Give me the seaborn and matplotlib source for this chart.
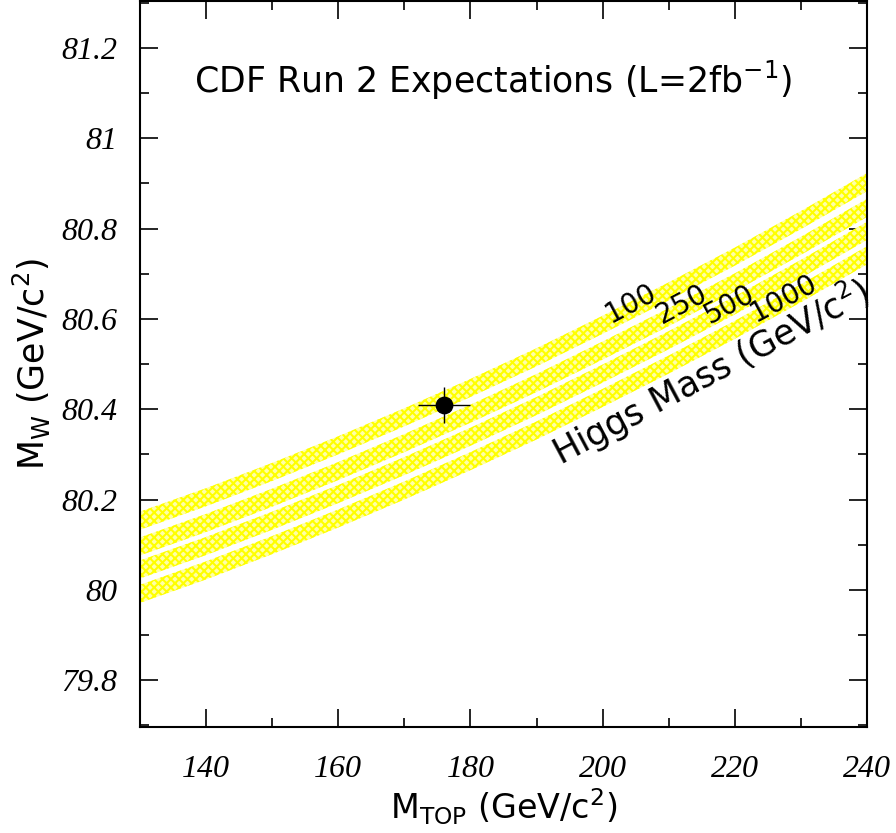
import numpy as np
import pandas as pd
import matplotlib
matplotlib.use("Agg")
import matplotlib.pyplot as plt
import seaborn as sns
from matplotlib.ticker import MultipleLocator

# Bandens mittlinjer (var 10:e GeV)
m_top = [130, 140, 150, 160, 170, 180, 190, 200, 210, 220, 230, 240]
mw_100 = [80.153, 80.205, 80.261, 80.320, 80.382, 80.447, 80.515, 80.587, 80.661, 80.738, 80.819, 80.903]
mw_250 = [80.096, 80.148, 80.204, 80.263, 80.325, 80.390, 80.458, 80.530, 80.604, 80.681, 80.762, 80.846]
mw_500 = [80.045, 80.097, 80.153, 80.212, 80.274, 80.339, 80.407, 80.479, 80.553, 80.630, 80.711, 80.795]
mw_1000 = [79.991, 80.043, 80.099, 80.158, 80.220, 80.285, 80.353, 80.425, 80.499, 80.576, 80.657, 80.741]
higgs_masses = ["100", "250", "500", "1000"]
band_halfwidth = 0.02

# Mätpunkt med fel
point_x, point_y = 176.0, 80.41
point_xerr, point_yerr = 4.0, 0.04

# Etiketter för banden
label_x = [204.2, 212.0, 219.1, 227.4]
label_y = [80.635, 80.631, 80.631, 80.646]

sns.set_style("ticks")
plt.rcParams.update({
    'hatch.linewidth': 1.5,
    'text.color': 'black',
    'axes.labelcolor': 'black',
    'xtick.color': 'black',
    'ytick.color': 'black',
    'mathtext.fontset': 'dejavusans',
})

df = pd.DataFrame({
    'M_top': m_top * 4,
    'M_W': mw_100 + mw_250 + mw_500 + mw_1000,
    'Higgs': sum([[h] * len(m_top) for h in higgs_masses], []),
})

fig = plt.figure(figsize=(8.96, 8.33), dpi=100)
ax = fig.add_axes([0.156, 0.127, 0.812, 0.872])

for h, grp in df.groupby('Higgs', sort=False):
    ax.fill_between(grp['M_top'], grp['M_W'] - band_halfwidth, grp['M_W'] + band_halfwidth,
                    facecolor='#ffffa8', edgecolor='#ffff00', hatch='xxxx', linewidth=0)

ax.errorbar([point_x], [point_y], xerr=[point_xerr], yerr=[point_yerr],
            fmt='none', ecolor='black', elinewidth=1.0, capsize=0)
sns.scatterplot(x=[point_x], y=[point_y], color='black', s=140, edgecolor='black', ax=ax, zorder=5)

ax.set_xlim(130, 240)
ax.set_ylim(79.696, 81.304)

ax.xaxis.set_major_locator(MultipleLocator(20))
ax.xaxis.set_minor_locator(MultipleLocator(10))
ax.yaxis.set_minor_locator(MultipleLocator(0.1))
ax.set_yticks(np.arange(79.8, 81.21, 0.2))
ax.set_yticklabels(['79.8', '80', '80.2', '80.4', '80.6', '80.8', '81', '81.2'])

ax.tick_params(which='both', direction='in', top=True, right=True, width=1.2)
ax.tick_params(which='major', length=13)
ax.tick_params(which='minor', length=6.5)
ax.tick_params(axis='y', which='major', pad=16)
ax.tick_params(axis='x', which='major', pad=20)
for lab in ax.get_xticklabels() + ax.get_yticklabels():
    lab.set_fontfamily('Liberation Serif')
    lab.set_fontstyle('italic')
    lab.set_fontsize(23)

for sp in ax.spines.values():
    sp.set_linewidth(1.5)
    sp.set_color('black')

ax.set_xlabel(r'M$_{\mathrm{TOP}}$ (GeV/c$^{2}$)', fontsize=24, labelpad=2)
ax.set_ylabel(r'M$_{\mathrm{W}}$ (GeV/c$^{2}$)', fontsize=25, labelpad=6)

ax.text(183.5, 81.127, r'CDF Run 2 Expectations (L=2fb$^{-1}$)', fontsize=25,
        ha='center', va='center')

for h, lx, ly in zip(higgs_masses, label_x, label_y):
    ax.text(lx, ly, h, fontsize=20, rotation=28, ha='center', va='center',
            rotation_mode='anchor')
ax.text(216.4, 80.482, r'Higgs Mass (GeV/c$^{2}$)', fontsize=25, rotation=28,
        ha='center', va='center', rotation_mode='anchor')

fig.savefig('out.png', dpi=100)
